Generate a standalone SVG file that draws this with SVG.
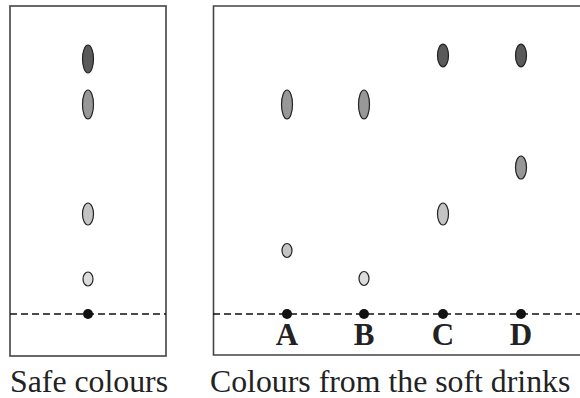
<svg xmlns="http://www.w3.org/2000/svg" width="580" height="398" viewBox="0 0 580 398">
<style>
.box{fill:none;stroke:#444;stroke-width:1.6}
.base{stroke:#111;stroke-width:1.3;stroke-dasharray:7 4}
.spot{stroke:#222;stroke-width:1.2}
.d1{fill:#5a5a5a}
.d2{fill:#989898}
.d3{fill:#c4c4c4}
.d4{fill:#dcdcdc}
.dot{fill:#111}
.lbl{font-family:"Liberation Serif","Times New Roman",serif;font-size:31.8px;fill:#222}
.let{font-family:"Liberation Serif","Times New Roman",serif;font-size:31px;font-weight:bold;fill:#222;text-anchor:middle}
</style>
<g id="safe">
<rect class="box" x="10" y="6" width="156" height="350"/>
<line class="base" x1="10" y1="314" x2="166" y2="314"/>
<ellipse class="spot d1" cx="88" cy="59" rx="5.5" ry="14"/>
<ellipse class="spot d2" cx="88" cy="104.5" rx="5.5" ry="14.5"/>
<ellipse class="spot d3" cx="88" cy="214" rx="5.5" ry="11"/>
<ellipse class="spot d4" cx="88" cy="279" rx="5" ry="7"/>
<circle class="dot" cx="88" cy="314" r="5"/>
<text class="lbl" x="10" y="392">Safe colours</text>
</g>
<g id="drinks">
<path class="box" d="M582 6H213.5V355H582"/>
<line class="base" x1="213" y1="314" x2="580" y2="314"/>
<g id="A">
<ellipse class="spot d2" cx="287" cy="104.5" rx="5.5" ry="14.5"/>
<ellipse class="spot d3" cx="287" cy="250.5" rx="5" ry="7"/>
<circle class="dot" cx="287" cy="314" r="5"/>
<text class="let" x="287" y="345">A</text>
</g>
<g id="B">
<ellipse class="spot d2" cx="364" cy="104.5" rx="5.5" ry="14.5"/>
<ellipse class="spot d4" cx="364" cy="278.5" rx="5" ry="7"/>
<circle class="dot" cx="364" cy="314" r="5"/>
<text class="let" x="364" y="345">B</text>
</g>
<g id="C">
<ellipse class="spot d1" cx="443" cy="55.5" rx="5.5" ry="11.3"/>
<ellipse class="spot d3" cx="443" cy="214" rx="5.5" ry="11"/>
<circle class="dot" cx="443" cy="314" r="5"/>
<text class="let" x="443" y="345">C</text>
</g>
<g id="D">
<ellipse class="spot d1" cx="521" cy="55.5" rx="5.5" ry="11.3"/>
<ellipse class="spot d2" cx="521" cy="167.5" rx="5.5" ry="11.5"/>
<circle class="dot" cx="521" cy="314" r="5"/>
<text class="let" x="521" y="345">D</text>
</g>
<text class="lbl" x="210" y="392">Colours from the soft drinks</text>
</g>
</svg>
